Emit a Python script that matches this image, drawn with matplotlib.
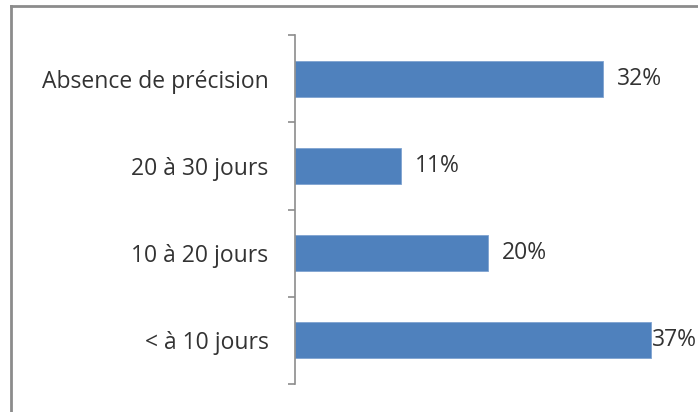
import matplotlib
matplotlib.use("Agg")
import matplotlib.pyplot as plt
from matplotlib.lines import Line2D

categories = ["< à 10 jours", "10 à 20 jours", "20 à 30 jours", "Absence de précision"]
values = [37, 20, 11, 32]
value_labels = ["37%", "20%", "11%", "32%"]

W, H = 698, 412
fig = plt.figure(figsize=(W / 100, H / 100), dpi=100)
fig.patch.set_facecolor("white")

plt.rcParams["font.family"] = ["Open Sans", "DejaVu Sans"]
text_color = "#333333"
bar_color = "#4F81BD"
fs = 16.5

# outer chart frame (left and top edges visible)
fig.add_artist(Line2D([11.5 / W, 11.5 / W], [0, 1 - 5.5 / H], transform=fig.transFigure,
                      color="#8c8c8c", lw=2))
fig.add_artist(Line2D([11.5 / W, 1], [1 - 5.5 / H, 1 - 5.5 / H], transform=fig.transFigure,
                      color="#8c8c8c", lw=2))

ax_left, ax_right = 295 / W, 680 / W
ax_top, ax_bottom = 1 - 35 / H, 1 - 384 / H
ax = fig.add_axes([ax_left, ax_bottom, ax_right - ax_left, ax_top - ax_bottom])
ax.set_facecolor("none")

ypos = list(range(len(categories)))
bars = ax.barh(ypos, values, height=0.41, color=bar_color, edgecolor="#7fa3d1", linewidth=0.6)
ax.set_xlim(0, 40)
ax.set_ylim(-0.5, len(categories) - 0.5)

ax.set_yticks([y - 0.5 for y in ypos] + [len(categories) - 0.5])
ax.set_yticklabels([])
ax.set_yticks(ypos, minor=True)
ax.set_yticklabels(categories, minor=True, fontsize=fs, color=text_color)
ax.tick_params(axis="y", which="major", direction="out", length=5, width=1.2, color="#8c8c8c")
ax.tick_params(axis="y", which="minor", length=0, pad=19)
ax.set_xticks([])

for side in ["top", "right", "bottom"]:
    ax.spines[side].set_visible(False)
ax.spines["left"].set_color("#8c8c8c")
ax.spines["left"].set_linewidth(1.2)

px_per_unit = (ax_right - ax_left) * W / 40
for y, v, lab in zip(ypos, values, value_labels):
    end_px = ax_left * W + v * px_per_unit
    gap = min(14, W - end_px - 46)
    ax.annotate(lab, xy=(v, y), xytext=(gap * 0.72, 0), textcoords="offset points",
                va="center", ha="left", fontsize=fs, color=text_color, annotation_clip=False)

fig.savefig("out.png", dpi=100)
